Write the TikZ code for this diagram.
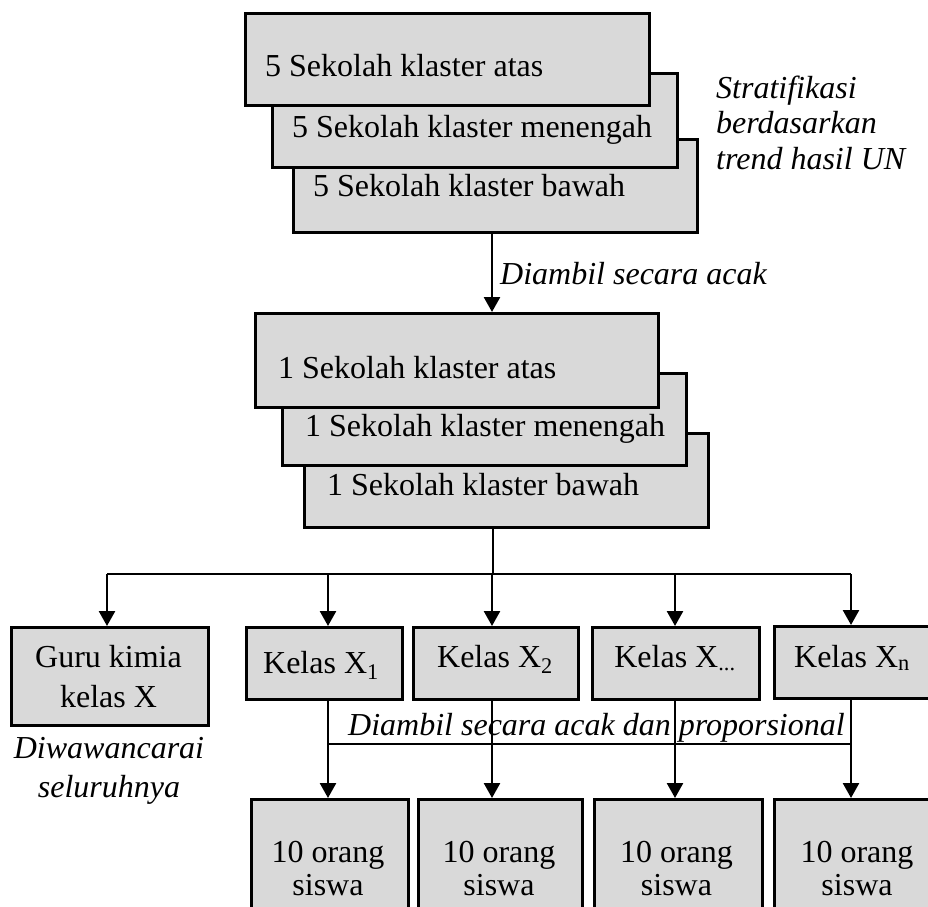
\documentclass[tikz,border=0pt]{standalone}
\usepackage{fontspec}
\setmainfont{Liberation Serif}
\usetikzlibrary{arrows.meta}
\definecolor{boxgray}{HTML}{D9D9D9}
\tikzset{
  box/.style={draw=black, fill=boxgray, line width=2.6pt, inner sep=0pt, anchor=north west},
  txt/.style={font=\fontsize{32}{38}\selectfont, inner sep=0pt},
  itxt/.style={font=\fontsize{32}{38}\selectfont\itshape, inner sep=0pt},
  arr/.style={line width=2.6pt, -{Triangle[length=15pt,width=16pt]}},
  thinline/.style={line width=1.5pt},
}
\begin{document}
\begin{tikzpicture}[x=1pt,y=-1pt]
\useasboundingbox (0,0) rectangle (928,906);
% top stack
\node[box, minimum width=404pt, minimum height=93pt] (a3) at (292,138) {};
\node[txt, anchor=base west] (ta3) at (313,196) {5 Sekolah klaster bawah};
\node[box, minimum width=405pt, minimum height=94pt] (a2) at (271,72) {};
\node[txt, anchor=base west] (ta2) at (292,137) {5 Sekolah klaster menengah};
\node[box, minimum width=404pt, minimum height=92pt] (a1) at (244,12) {};
\node[txt, anchor=base west] (ta1) at (265,76) {5 Sekolah klaster atas};
\node[itxt, anchor=base west] (st1) at (716,98) {Stratifikasi};
\node[itxt, anchor=base west] (st2) at (716,133) {berdasarkan};
\node[itxt, anchor=base west] (st3) at (716,169) {trend hasil UN};
% second stack
\node[box, minimum width=404pt, minimum height=94pt] (b3) at (303,432) {};
\node[txt, anchor=base west] (tb3) at (327,495) {1 Sekolah klaster bawah};
\node[box, minimum width=404pt, minimum height=92pt] (b2) at (281,372) {};
\node[txt, anchor=base west] (tb2) at (305,436) {1 Sekolah klaster menengah};
\node[box, minimum width=403pt, minimum height=94pt] (b1) at (254,312) {};
\node[txt, anchor=base west] (tb1) at (278,378) {1 Sekolah klaster atas};
% arrow between stacks
\coordinate (ca) at (492,0);
\draw[arr] (a3.south -| ca) -- (b1.north -| ca);
\node[itxt, anchor=base west] (lab1) at (500,284) {Diambil secara acak};
% row of classes
\node[box, minimum width=197pt, minimum height=98pt] (guru) at (10,626) {};
\node[txt, anchor=base] (tg1) at (108.5,667) {Guru kimia};
\node[txt, anchor=base] (tg2) at (108.5,707) {kelas X};
\node[box, minimum width=156pt, minimum height=72pt] (k1) at (245,626) {};
\node[txt, anchor=base] (tk1) at (321,673) {Kelas X\textsubscript{1}};
\node[box, minimum width=165pt, minimum height=72pt] (k2) at (412,626) {};
\node[txt, anchor=base] (tk2) at (495,667) {Kelas X\textsubscript{2}};
\node[box, minimum width=167pt, minimum height=72pt] (k3) at (591,626) {};
\node[txt, anchor=base] (tk3) at (675,667) {Kelas X\textsubscript{...}};
\node[box, minimum width=170pt, minimum height=72pt] (k4) at (773,625) {};
\node[txt, anchor=base] (tk4) at (852,667) {Kelas X\textsubscript{n}};
\node[itxt, anchor=base] (lab2a) at (109,758) {Diwawancarai};
\node[itxt, anchor=base] (lab2b) at (109,797) {seluruhnya};
% column coordinates
\coordinate (j) at (493,574);
\coordinate (cg) at (107,0);
\coordinate (c1) at (328,0);
\coordinate (c2) at (492,0);
\coordinate (c3) at (675,0);
\coordinate (c4) at (851,0);
\coordinate (j2) at (0,744);
\draw[thinline] (b3.south -| j) -- (j);
\draw[thinline] (cg |- j) -- (c4 |- j);
\draw[arr] (cg |- j) -- (guru.north -| cg);
\draw[arr] (c1 |- j) -- (k1.north -| c1);
\draw[arr] (c2 |- j) -- (k2.north -| c2);
\draw[arr] (c3 |- j) -- (k3.north -| c3);
\draw[arr] (c4 |- j) -- (k4.north -| c4);
% students
\node[box, minimum width=157pt, minimum height=130pt] (s1) at (250,798) {};
\node[box, minimum width=164pt, minimum height=130pt] (s2) at (417,798) {};
\node[box, minimum width=168pt, minimum height=130pt] (s3) at (593,798) {};
\node[box, minimum width=170pt, minimum height=130pt] (s4) at (773,798) {};
\node[txt, anchor=base] (ts1a) at (328,862) {10 orang};
\node[txt, anchor=base] (ts1b) at (328,895) {siswa};
\node[txt, anchor=base] (ts2a) at (499,862) {10 orang};
\node[txt, anchor=base] (ts2b) at (499,895) {siswa};
\node[txt, anchor=base] (ts3a) at (676.5,862) {10 orang};
\node[txt, anchor=base] (ts3b) at (676.5,895) {siswa};
\node[txt, anchor=base] (ts4a) at (857,862) {10 orang};
\node[txt, anchor=base] (ts4b) at (857,895) {siswa};
\draw[thinline] (k1.south -| c1) -- (c1 |- j2);
\draw[thinline] (k2.south -| c2) -- (c2 |- j2);
\draw[thinline] (k3.south -| c3) -- (c3 |- j2);
\draw[thinline] (k4.south -| c4) -- (c4 |- j2);
\draw[thinline] (c1 |- j2) -- (c4 |- j2);
\draw[arr] (c1 |- j2) -- (s1.north -| c1);
\draw[arr] (c2 |- j2) -- (s2.north -| c2);
\draw[arr] (c3 |- j2) -- (s3.north -| c3);
\draw[arr] (c4 |- j2) -- (s4.north -| c4);
\node[itxt, anchor=base west] (lab3) at (348,735) {Diambil secara acak dan proporsional};
\end{tikzpicture}
\end{document}
